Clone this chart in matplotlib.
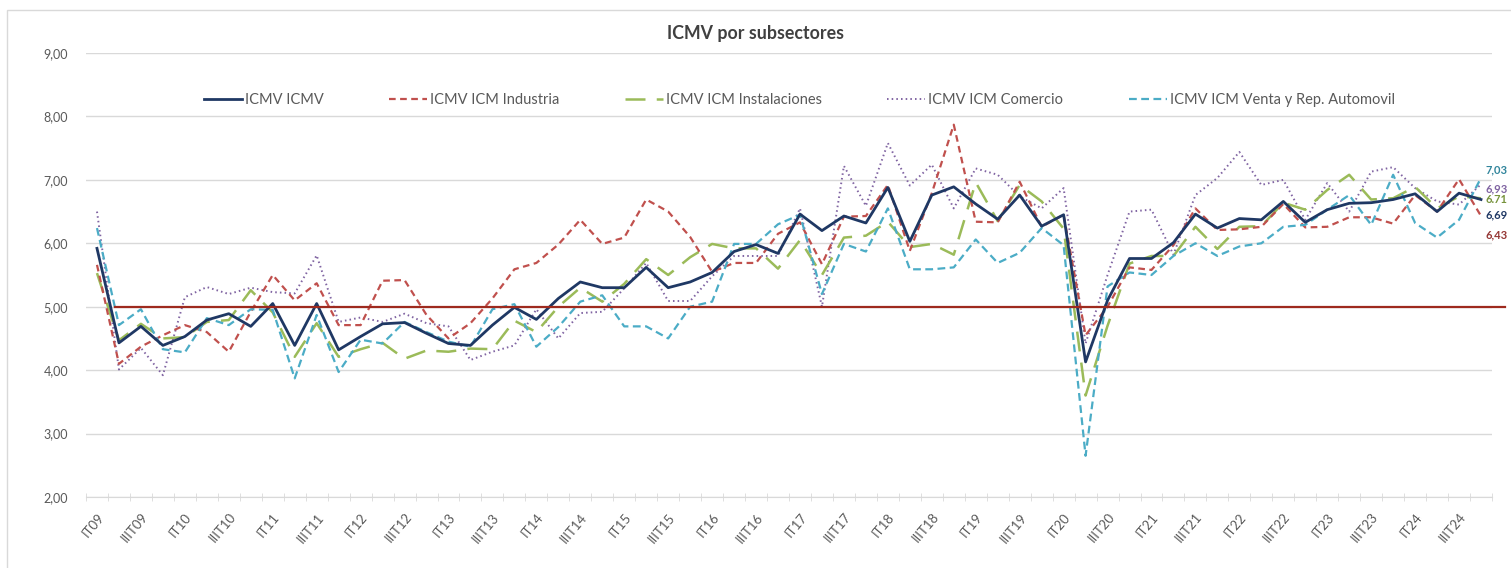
import numpy as np
import matplotlib.pyplot as plt
from matplotlib.patches import Rectangle

# quarters IT09 .. IVT24
years = ['%02d' % y for y in range(9, 25)]
quarters = ['I', 'II', 'III', 'IV']
periods = [q + 'T' + y for y in years for q in quarters]

icmv = [5.92, 4.43, 4.69, 4.39, 4.53, 4.79, 4.89, 4.69, 5.05, 4.39, 5.05, 4.32, 4.53, 4.73, 4.75, 4.58,
        4.42, 4.39, 4.71, 4.99, 4.80, 5.13, 5.39, 5.30, 5.30, 5.62, 5.30, 5.39, 5.54, 5.87, 5.98, 5.84,
        6.46, 6.20, 6.43, 6.32, 6.88, 6.03, 6.76, 6.89, 6.62, 6.38, 6.76, 6.27, 6.45, 4.13, 5.10, 5.76,
        5.76, 6.01, 6.46, 6.24, 6.39, 6.37, 6.66, 6.33, 6.53, 6.63, 6.64, 6.69, 6.78, 6.50, 6.79, 6.69]
industria = [5.66, 4.10, 4.37, 4.55, 4.71, 4.60, 4.29, 4.92, 5.50, 5.10, 5.37, 4.71, 4.71, 5.41, 5.42, 4.87,
             4.50, 4.74, 5.13, 5.59, 5.69, 5.98, 6.37, 5.99, 6.09, 6.69, 6.50, 6.10, 5.55, 5.69, 5.69, 6.15,
             6.33, 5.67, 6.42, 6.43, 6.92, 5.88, 6.79, 7.87, 6.34, 6.33, 6.97, 6.26, 6.45, 4.55, 5.00, 5.62,
             5.58, 5.97, 6.55, 6.21, 6.22, 6.26, 6.62, 6.25, 6.26, 6.41, 6.41, 6.31, 6.76, 6.50, 7.01, 6.43]
instalaciones = [5.53, 4.47, 4.73, 4.50, 4.52, 4.76, 4.79, 5.26, 4.91, 4.21, 4.74, 4.21, 4.33, 4.43, 4.18, 4.31,
                 4.29, 4.34, 4.33, 4.78, 4.60, 5.00, 5.30, 5.08, 5.36, 5.75, 5.50, 5.78, 5.99, 5.92, 5.92, 5.60,
                 6.05, 5.50, 6.09, 6.12, 6.34, 5.94, 5.99, 5.82, 6.96, 6.35, 6.92, 6.66, 6.23, 3.60, 4.70, 5.68,
                 5.80, 5.80, 6.26, 5.91, 6.26, 6.27, 6.64, 6.53, 6.84, 7.08, 6.69, 6.71, 6.89, 6.55, 6.74, 6.71]
comercio = [6.50, 4.01, 4.35, 3.92, 5.15, 5.31, 5.20, 5.30, 5.23, 5.21, 5.81, 4.76, 4.83, 4.76, 4.89, 4.74,
            4.69, 4.16, 4.29, 4.39, 4.96, 4.50, 4.90, 4.92, 5.29, 5.69, 5.09, 5.09, 5.48, 5.80, 5.80, 5.80,
            6.55, 5.00, 7.22, 6.59, 7.58, 6.91, 7.24, 6.55, 7.18, 7.08, 6.74, 6.55, 6.87, 4.42, 5.50, 6.50,
            6.53, 5.82, 6.76, 7.03, 7.44, 6.92, 7.00, 6.37, 6.95, 6.50, 7.13, 7.20, 6.87, 6.66, 6.61, 6.93]
automovil = [6.24, 4.71, 4.96, 4.33, 4.28, 4.82, 4.71, 4.96, 4.95, 3.87, 4.87, 3.97, 4.48, 4.42, 4.76, 4.60,
             4.45, 4.37, 4.96, 5.04, 4.37, 4.68, 5.08, 5.18, 4.69, 4.69, 4.50, 5.00, 5.08, 5.99, 5.99, 6.30,
             6.45, 5.20, 5.99, 5.87, 6.55, 5.59, 5.59, 5.62, 6.06, 5.69, 5.85, 6.24, 5.97, 2.65, 5.32, 5.54,
             5.50, 5.80, 6.00, 5.80, 5.95, 6.00, 6.26, 6.29, 6.53, 6.76, 6.29, 7.08, 6.32, 6.09, 6.37, 7.03]
umbral = 5.0

plt.rcParams['font.family'] = ['Lato', 'DejaVu Sans']
txt = '#595959'

fig = plt.figure(figsize=(15.11, 5.68), dpi=100)
fig.patches.append(Rectangle((7 / 1511, -0.01), 1.0, 1 - 10 / 568 + 0.01, transform=fig.transFigure,
                             fill=False, edgecolor='#d9d9d9', linewidth=1))
ax = fig.add_axes([86 / 1511, 1 - 497 / 568, (1492 - 86) / 1511, (497 - 53) / 568])

x = np.arange(len(periods))
ax.plot(x, icmv, color='#1f3864', lw=2.0, label='ICMV ICMV', zorder=6)
ax.plot(x, industria, color='#c0504d', lw=1.6, ls=(0, (3, 2)), label='ICMV ICM Industria', zorder=4)
ax.plot(x, instalaciones, color='#9bbb59', lw=1.8, ls=(0, (8, 4.5)), label='ICMV ICM Instalaciones', zorder=3)
ax.plot(x, comercio, color='#8064a2', lw=1.4, ls=(0, (0.8, 1.6)), label='ICMV ICM Comercio', zorder=2)
ax.plot(x, automovil, color='#4bacc6', lw=1.6, ls=(0, (3.5, 2)), label='ICMV ICM Venta y Rep. Automovil', zorder=5)

# linea de referencia
ax.plot([0.82, 64.1], [umbral, umbral], color='#9e2a1e', lw=1.6, clip_on=False, zorder=7)

ax.set_xlim(-0.5, len(periods) - 0.5)
ax.set_ylim(2, 9)
ax.set_yticks(np.arange(2, 10))
ax.set_yticklabels([('%.2f' % v).replace('.', ',') for v in range(2, 10)])
ax.yaxis.grid(True, color='#d9d9d9', lw=1)
ax.set_axisbelow(True)
for s in ['top', 'right', 'left']:
    ax.spines[s].set_visible(False)
ax.spines['bottom'].set_color('#d9d9d9')
ax.tick_params(axis='y', length=0, pad=13, labelsize=9, labelcolor=txt)

ax.set_xticks(x[::2])
ax.set_xticklabels(periods[::2], rotation=50, ha='right', va='top', rotation_mode='anchor')
ax.set_xticks(np.arange(-0.5, len(periods)), minor=True)
ax.tick_params(axis='x', which='major', length=0, pad=10, labelsize=9.5, labelcolor=txt)
ax.tick_params(axis='x', which='minor', length=6, direction='inout', color='#d9d9d9')

fig.text(0.5, 1 - 33 / 568, 'ICMV por subsectores', ha='center', va='center',
         fontsize=12.8, fontweight='bold', color='#404040')

fig.legend(loc='center', bbox_to_anchor=(0.529, 1 - 100 / 568), ncol=5, frameon=False,
           fontsize=10.5, labelcolor=txt, handlelength=2.6, handletextpad=0.2, columnspacing=4.5)

# etiquetas del ultimo dato
last = len(periods) - 1
ends = [(automovil, '#31859c', -8, ','), (comercio, '#8064a2', 5, ','),
        (instalaciones, '#77933c', 1, '.'), (icmv, '#1f3864', 15, ','),
        (industria, '#953735', 19, ',')]
for serie, col, dy, sep in ends:
    ax.annotate(('%.2f' % serie[last]).replace('.', sep), (last, serie[last]), xytext=(3.5, -dy * 0.72),
                textcoords='offset points', ha='left', va='center', fontsize=8,
                fontweight='bold', color=col, annotation_clip=False)

fig.savefig('out.png', dpi=100)
